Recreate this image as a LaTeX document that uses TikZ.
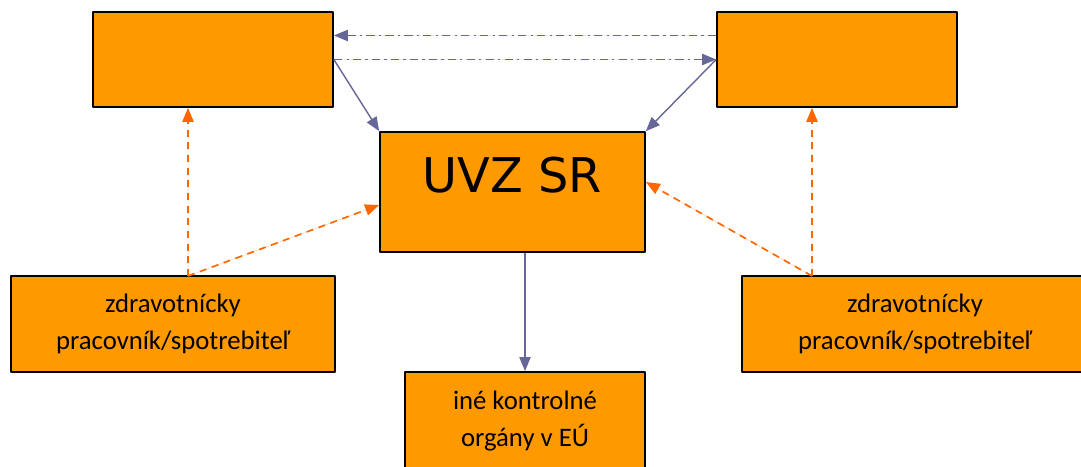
\documentclass[tikz,border=0pt]{standalone}
\usepackage{fontspec}
\setmainfont{Carlito}
\newfontfamily\uvzfont{DejaVu Sans}
\usetikzlibrary{arrows.meta}
\definecolor{boxorange}{RGB}{255,153,0}
\definecolor{linkblue}{RGB}{102,102,153}
\definecolor{tipred}{RGB}{255,102,0}
\begin{document}
\begin{tikzpicture}[line join=round,>={Triangle[length=10pt,width=8pt]}]
		\tikzset{box/.style={draw=black,line width=1.2pt,fill=boxorange,inner sep=0pt,align=center,font=\fontsize{19}{26.5}\selectfont},
			link/.style={->,draw=linkblue,fill=linkblue,line width=1pt},
			dashdot/.style={link,line width=1.2pt,dash pattern=on 6pt off 3pt on 1.5pt off 3pt},
			report/.style={->,draw=tipred,fill=tipred,line width=1.2pt,dash pattern=on 5pt off 4pt}}
		\useasboundingbox (0,0) rectangle (27.025,11.65);
		% boxes
		\node[box,minimum width=6cm,minimum height=2.375cm] (partl) at (5.325,10.1625) {};
		\node[box,minimum width=6cm,minimum height=2.375cm] (partr) at (20.925,10.1625) {};
		\node[box,minimum width=6.625cm,minimum height=3cm] (uvz) at (12.8125,6.85) {};
		\node[font=\uvzfont\fontsize{34}{40}\selectfont,anchor=base] at (uvz.center) {UVZ SR};
		\node[box,minimum width=8.1cm,minimum height=2.4cm] (zdrl) at (4.325,3.55) {zdravotnícky\\pracovník/spotrebiteľ};
		\node[box,minimum width=8.65cm,minimum height=2.4cm] (zdrr) at (22.875,3.55) {zdravotnícky\\pracovník/spotrebiteľ};
		\node[box,minimum width=6cm,minimum height=2.45cm] (eu) at (13.125,1.125) {iné kontrolné\\orgány v EÚ};
		% links
		\draw[dashdot] ([yshift=0.6cm]partr.west) -- ([yshift=0.6cm]partl.east);
		\draw[dashdot] (partl.east) -- (partr.west);
		\draw[link] (partl.east) -- (uvz.north west);
		\draw[link] (partr.west) -- (uvz.north east);
		\draw[link] (uvz.south -| eu.north) -- (eu.north);
		% reports
		\coordinate (repl) at (4.7,4.75);
		\coordinate (repr) at (20.3,4.75);
		\draw[report] (repl) -- (repl |- partl.south);
		\draw[report] (repl) -- ([yshift=-0.325cm]uvz.west);
		\draw[report] (repr) -- (repr |- partr.south);
		\draw[report] (repr) -- ([yshift=0.25cm]uvz.east);
		\end{tikzpicture}
\end{document}
